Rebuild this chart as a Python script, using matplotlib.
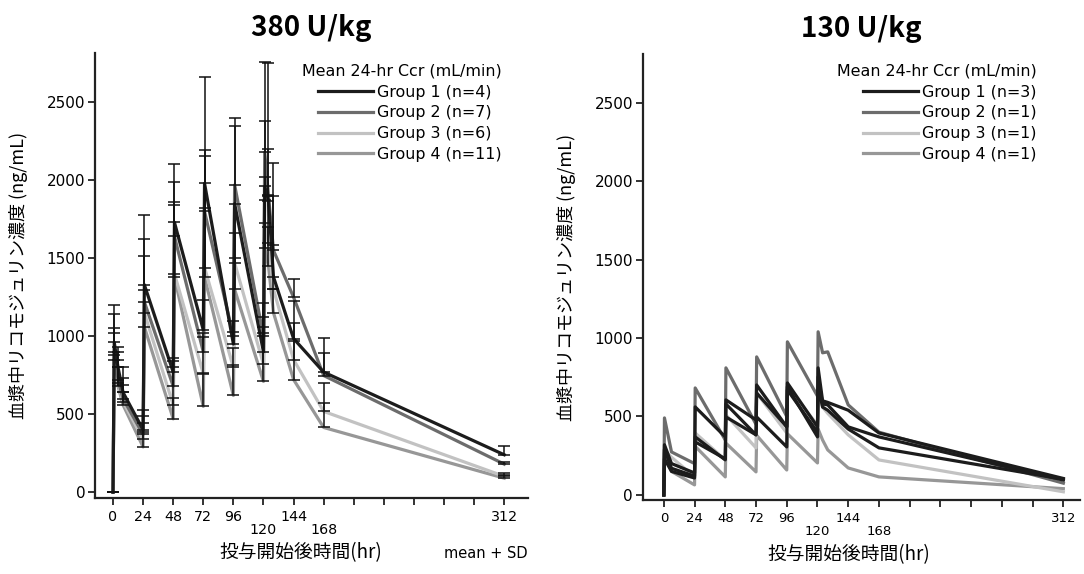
import numpy as np
import matplotlib
matplotlib.use('Agg')
import matplotlib.pyplot as plt

plt.rcParams['font.family'] = ['DejaVu Sans', 'Noto Sans CJK JP']

# ---- 380 U/kg: group means and SD (ng/mL) ----
t_380 = [0, 1, 4, 8, 24, 25, 48, 49, 72, 73, 96, 97, 120, 121, 124, 128,
         144, 168, 312]
g1_380 = [0, 960, 800, 640, 400, 1330, 770, 1730, 1040, 1980, 950, 1850,
          900, 1960, 1870, 1380, 985, 770, 240]
g2_380 = [0, 900, 720, 600, 370, 1220, 680, 1640, 900, 1800, 1000, 1970,
          1000, 2180, 1900, 1550, 1250, 748, 180]
g3_380 = [0, 880, 700, 580, 340, 1150, 560, 1400, 760, 1440, 800, 1470,
          820, 1726, 1600, 1300, 850, 518, 102]
g4_380 = [0, 850, 680, 560, 290, 1060, 470, 1380, 550, 1380, 620, 1300,
          710, 1566, 1450, 1150, 722, 415, 90]
sd1_380 = [0, 240, 130, 160, 130, 447, 90, 374, 190, 680, 150, 497,
           160, 800, 880, 520, 243, 220, 54]
sd2_380 = [0, 240, 180, 135, 116, 404, 160, 349, 123, 393, 29, 428,
           215, 198, 299, 560, 118, 147, 12]
sd3_380 = [0, 170, 150, 110, 101, 365, 240, 461, 237, 715, 127, 192,
           203, 294, 305, 286, 237, 185, 19]
sd4_380 = [0, 173, 120, 80, 94, 238, 137, 461, 217, 442, 198, 200,
           415, 307, 250, 150, 250, 160, 20]

# ---- 130 U/kg: individual patients (ng/mL) ----
t_130 = [0, 0.5, 6, 24, 24.5, 48, 48.5, 72, 72.5, 96, 96.5, 120, 120.5,
         124, 128, 144, 168, 312]
g1a_130 = [0, 320, 200, 140, 561, 370, 606, 478, 701, 434, 714, 434, 810,
           600, 590, 540, 395, 105]
g1b_130 = [0, 290, 170, 120, 370, 223, 497, 383, 650, 434, 690, 370, 752,
           580, 574, 434, 370, 95]
g1c_130 = [0, 230, 150, 108, 338, 230, 580, 383, 497, 306, 670, 400, 689,
           560, 540, 420, 300, 100]
g2_130 = [0, 491, 274, 200, 682, 350, 810, 450, 880, 500, 976, 630, 1040,
          906, 912, 574, 400, 75]
g3_130 = [0, 287, 240, 115, 395, 223, 510, 300, 650, 395, 689, 446, 638,
          560, 520, 383, 223, 20]
g4_130 = [0, 270, 150, 64, 310, 115, 330, 147, 380, 159, 390, 204, 420,
          350, 287, 172, 115, 40]

labels_380 = ['Group 1 (n=4)', 'Group 2 (n=7)', 'Group 3 (n=6)',
              'Group 4 (n=11)']
labels_130 = ['Group 1 (n=3)', 'Group 2 (n=1)', 'Group 3 (n=1)',
              'Group 4 (n=1)']
colors = ['#1c1c1c', '#6c6c6c', '#c2c2c2', '#979797']

xticks = list(range(0, 313, 24))
xlabels = ['0', '24', '48', '72', '96', '120', '144', '168',
           '', '', '', '', '', '312']
low = [5, 7]  # labels pushed down (120, 168)

cjk = ['Noto Sans CJK JP', 'DejaVu Sans']
ylab = '血漿中リコモジュリン濃度 (ng/mL)'
xlab = '投与開始後時間(hr)'
lw = 2.3

fig = plt.figure(figsize=(10.84, 5.74), dpi=100)
ax1 = fig.add_axes([0.0876, 0.133, 0.3995, 0.775])
ax2 = fig.add_axes([0.593, 0.129, 0.4033, 0.777])


def style(ax, xl, yl, xsize):
    for s in ['top', 'right']:
        ax.spines[s].set_visible(False)
    for s in ['left', 'bottom']:
        ax.spines[s].set_linewidth(1.6)
        ax.spines[s].set_color('#222222')
    ax.set_xlim(*xl)
    ax.set_ylim(*yl)
    ax.set_yticks([0, 500, 1000, 1500, 2000, 2500])
    ax.set_xticks(xticks)
    ax.set_xticklabels(xlabels)
    ax.tick_params(axis='both', direction='out', length=5, width=1.3,
                   color='#222222')
    ax.tick_params(axis='y', labelsize=11, pad=2)
    ax.tick_params(axis='x', labelsize=xsize, pad=4)
    for i, tk in enumerate(ax.xaxis.get_major_ticks()):
        if i in low:
            tk.set_pad(13)


def add_legend(ax, handles, labels, right_px):
    ax.legend(handles, labels, title='Mean 24-hr Ccr (mL/min)',
              loc='upper right',
              bbox_to_anchor=(right_px / 1084, 1 - 64 / 574),
              bbox_transform=fig.transFigure, frameon=False,
              alignment='right', fontsize=11.4, title_fontsize=11.4,
              handlelength=3.5, handletextpad=0.25, labelspacing=0.36,
              borderaxespad=0, borderpad=0)


# left panel: means + SD
means = [g1_380, g2_380, g3_380, g4_380]
sds = [sd1_380, sd2_380, sd3_380, sd4_380]
for i in [3, 2, 1, 0]:
    ax1.plot(t_380, means[i], color=colors[i], lw=lw, label=labels_380[i],
             zorder=2 + (3 - i) * 0.1)
for i in range(4):
    ax1.errorbar(t_380, means[i], yerr=[np.zeros(len(sds[i])), sds[i]],
                 fmt='none', ecolor='#111111', elinewidth=1.1,
                 capsize=4.3, capthick=1.1, zorder=4)
style(ax1, (-14.4, 331), (-35, 2817), 10.3)
h, l = ax1.get_legend_handles_labels()
add_legend(ax1, h[::-1], l[::-1], 502)
ax1.set_title('380 U/kg', fontsize=20, family=cjk, weight='bold', pad=12)
ax1.set_ylabel(ylab, family=cjk, fontsize=13)
ax1.yaxis.set_label_coords(-0.155, 0.5)
ax1.set_xlabel(xlab, family=cjk, fontsize=13.5)
ax1.xaxis.set_label_coords(0.475, -0.1)
fig.text(528 / 1084, 1 - 553 / 574, 'mean + SD', ha='right', va='center',
         fontsize=10.5)

# right panel: individual patients
indiv = [(g4_130, 3), (g3_130, 2), (g2_130, 1),
         (g1a_130, 0), (g1b_130, 0), (g1c_130, 0)]
seen = set()
for y, gi in indiv:
    lab = labels_130[gi] if gi not in seen else None
    seen.add(gi)
    ax2.plot(t_130, y, color=colors[gi], lw=lw, label=lab)
style(ax2, (-16.4, 325), (-32, 2811), 9.5)
h, l = ax2.get_legend_handles_labels()
order = [l.index(s) for s in labels_130]
add_legend(ax2, [h[k] for k in order], [l[k] for k in order], 1037)
ax2.set_title('130 U/kg', fontsize=20, family=cjk, weight='bold', pad=12)
ax2.set_ylabel(ylab, family=cjk, fontsize=13)
ax2.yaxis.set_label_coords(-0.152, 0.5)
ax2.set_xlabel(xlab, family=cjk, fontsize=13.5)
ax2.xaxis.set_label_coords(0.47, -0.1)

fig.savefig('out.png', dpi=100)
